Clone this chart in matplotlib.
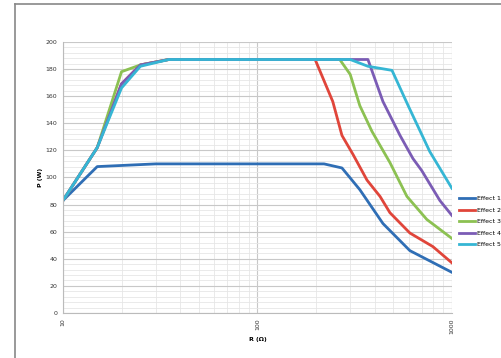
import matplotlib.pyplot as plt
from matplotlib.lines import Line2D
from matplotlib.ticker import MultipleLocator, LogLocator, NullFormatter, FixedLocator

# Values (R in ohm, P in W)
effect1_r = [10, 15, 30, 220, 272, 336, 442, 608, 1000]
effect1_p = [83, 108, 110, 110, 107, 91, 66, 46, 30]

effect2_r = [10, 15, 20, 25, 35, 198, 244, 272, 310, 366, 427, 480, 608, 798, 1000]
effect2_p = [83, 122, 169, 183, 187, 187, 156, 131, 117, 98, 86, 74, 59, 49, 37]

effect3_r = [10, 15, 20, 25, 35, 265, 300, 336, 388, 480, 587, 743, 1000]
effect3_p = [83, 122, 178, 183, 187, 187, 176, 153, 134, 111, 86, 69, 55]

effect4_r = [10, 15, 20, 25, 35, 370, 442, 541, 630, 700, 867, 1000]
effect4_p = [83, 122, 169, 183, 187, 187, 156, 131, 114, 105, 83, 72]

effect5_r = [10, 15, 20, 25, 35, 300, 370, 492, 600, 770, 1000]
effect5_p = [83, 122, 166, 182, 187, 187, 182, 179, 152, 119, 92]

labels = ['Effect 1', 'Effect 2', 'Effect 3', 'Effect 4', 'Effect 5']
colors = ['#2F6EB5', '#E0453A', '#8CC152', '#7B5CB5', '#35B6D4']

fig = plt.figure(figsize=(5.01, 3.58), dpi=100)
ax = fig.add_axes([0.1257, 0.1257, 0.902 - 0.1257, 0.883 - 0.1257])

series = [(effect1_r, effect1_p), (effect2_r, effect2_p), (effect3_r, effect3_p),
          (effect4_r, effect4_p), (effect5_r, effect5_p)]
for (r, p), lab, c in zip(series, labels, colors):
    ax.plot(r, p, color=c, lw=2.0, label=lab, solid_joinstyle='round')

ax.set_xscale('log')
ax.set_xlim(10, 1000)
ax.set_ylim(0, 200)

# Axis ticks and grid
ax.yaxis.set_major_locator(MultipleLocator(20))
ax.yaxis.set_minor_locator(MultipleLocator(4))
ax.xaxis.set_major_locator(FixedLocator([10, 100, 1000]))
ax.xaxis.set_minor_locator(LogLocator(base=10, subs=range(2, 10)))
ax.xaxis.set_minor_formatter(NullFormatter())
ax.set_xticklabels(['10', '100', '1000'], rotation=90)

ax.grid(which='major', color='#C8C8C8', lw=0.8)
ax.grid(which='minor', color='#E6E6E6', lw=0.6)
ax.set_axisbelow(True)

ax.tick_params(axis='both', which='both', length=0, labelsize=4.5, colors='#333333', pad=4)

for side in ['top', 'right']:
    ax.spines[side].set_visible(False)
for side in ['left', 'bottom']:
    ax.spines[side].set_color('#BBBBBB')
    ax.spines[side].set_linewidth(0.8)

ax.set_ylabel('P (W)', fontsize=4.5, fontweight='bold', labelpad=2)
ax.set_xlabel('R (\u03a9)', fontsize=4.5, fontweight='bold', labelpad=2)

fig.legend(loc='upper left', bbox_to_anchor=(459 / 501, 1 - 196 / 358), frameon=False,
           fontsize=4.5, handlelength=2.6, handletextpad=0.3, labelspacing=0.98,
           borderaxespad=0, borderpad=0)

# Frame around the figure (only left and top visible in the crop)
fig.add_artist(Line2D([15 / 501, 15 / 501], [0, 1 - 4 / 358], transform=fig.transFigure,
                      color='#888888', lw=1.2))
fig.add_artist(Line2D([15 / 501, 1], [1 - 4 / 358, 1 - 4 / 358], transform=fig.transFigure,
                      color='#888888', lw=1.2))

plt.savefig('out.png', dpi=100)
